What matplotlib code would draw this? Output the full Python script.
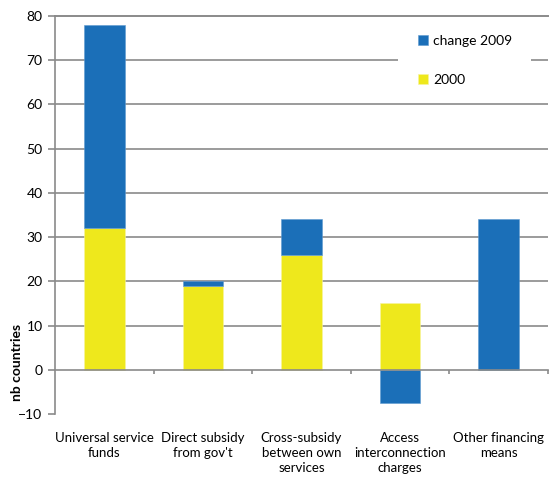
import matplotlib
matplotlib.use("Agg")
import matplotlib.pyplot as plt
import numpy as np
from matplotlib.ticker import FixedLocator, NullFormatter
from matplotlib.patches import Rectangle

categories = ["Universal service\nfunds", "Direct subsidy\nfrom gov't",
              "Cross-subsidy\nbetween own\nservices", "Access\ninterconnection\ncharges",
              "Other financing\nmeans"]
val_2000 = [32, 19, 26, 15, 0]
change_2009 = [46, 1, 8, -7.5, 34]
yticks = list(range(-10, 81, 10))

plt.rcParams['font.family'] = ['Lato', 'DejaVu Sans']

W, H = 554, 478
fig = plt.figure(figsize=(W/100, H/100), dpi=100)
ax = fig.add_axes([55/W, (H-414)/H, (548-55)/W, (414-16)/H])

x = np.arange(len(categories))
blue = "#1b6fb8"
yellow = "#eee81c"
bottoms = [v if c >= 0 else 0 for v, c in zip(val_2000, change_2009)]
ax.bar(x, val_2000, width=0.41, color=yellow, label="2000", zorder=3,
       edgecolor="#f6f3a0", linewidth=0.4)
ax.bar(x, change_2009, bottom=bottoms, width=0.41, color=blue, label="change 2009",
       zorder=3, edgecolor="#5f9ad0", linewidth=0.4)

ax.set_xlim(-0.5, 4.5)
ax.set_ylim(-10, 80)
ax.set_yticks(yticks)
ax.tick_params(axis='y', labelsize=10, length=5, width=1.2, color="#8a8a8a", pad=4)
for yv in yticks:
    if 0 < yv < 80:
        ax.plot([-0.5, 4.5], [yv, yv], color="#8a8a8a", linewidth=1.2, zorder=1,
                clip_on=False, solid_capstyle='butt')

for s in ['right']:
    ax.spines[s].set_visible(False)
ax.spines['top'].set_color("#8a8a8a")
ax.spines['top'].set_linewidth(1.4)
ax.spines['left'].set_color("#8a8a8a")
ax.spines['left'].set_linewidth(1.2)
ax.spines['bottom'].set_position(('data', 0))
ax.spines['bottom'].set_color("#8a8a8a")
ax.spines['bottom'].set_linewidth(1.2)
ax.spines['bottom'].set_zorder(4)

ax.xaxis.set_major_locator(FixedLocator([0.5, 1.5, 2.5, 3.5, 4.5]))
ax.xaxis.set_major_formatter(NullFormatter())
ax.tick_params(axis='x', length=3, width=1.2, color="#8a8a8a", direction='out',
               top=False)

for i, c in enumerate(categories):
    ax.text(i, -0.045, c, transform=ax.get_xaxis_transform(), ha='center', va='top',
            fontsize=9.5, linespacing=1.3)

fig.text(17/W, 1 - 362/H, "nb countries", rotation=90, ha='center', va='center',
         fontsize=10, fontweight='bold')

# white legend background box (breaks the 70 gridline as in the reference)
bg = Rectangle((398/W, 1 - 95/H), (531-398)/W, (95-26)/H, transform=fig.transFigure,
               facecolor='white', edgecolor='none', zorder=2)
ax.add_artist(bg)
bg.set_transform(fig.transFigure)

handles, labels = ax.get_legend_handles_labels()
leg = ax.legend(handles[::-1], labels[::-1], loc='upper left',
                bbox_to_anchor=((418-55)/493, (414-35)/398),
                frameon=False, fontsize=10, handlelength=0.7, handleheight=0.7,
                handletextpad=0.4, labelspacing=1.95, borderpad=0, borderaxespad=0)
leg.set_zorder(5)

fig.savefig("out.png", dpi=100)
